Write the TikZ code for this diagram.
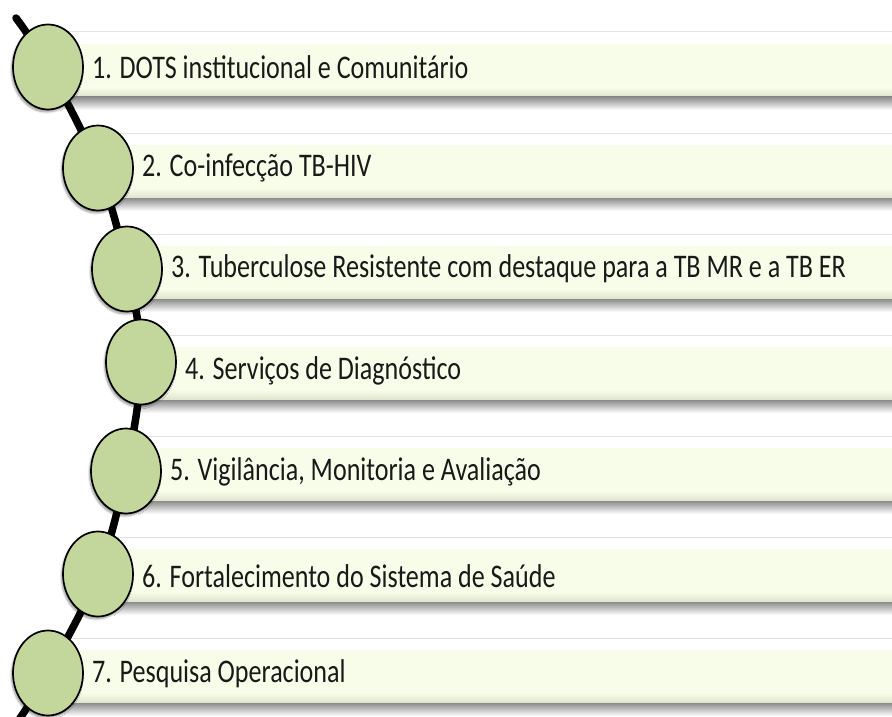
\documentclass[tikz,border=0pt]{standalone}
\usepackage{fontspec}
\setmainfont{Carlito}
\newfontfamily\itemfont[FakeStretch=0.79]{Carlito}
\usetikzlibrary{shapes.geometric,shadows.blur}
\definecolor{barfill}{HTML}{F8FDE9}
\definecolor{barbot}{HTML}{DDE2CC}
\definecolor{dotfill}{HTML}{C3D69B}
\tikzset{
  dotnode/.style={ellipse, draw=black, line width=1.7pt, fill=dotfill,
    minimum width=70pt, minimum height=85pt, inner sep=0pt,
    blur shadow={shadow xshift=-1.5pt, shadow yshift=-2.5pt, shadow blur steps=6, shadow opacity=40}},
  itemtext/.style={anchor=west, inner sep=0pt, text=black!90,
    font=\itemfont\fontsize{33}{38}\selectfont},
  spine/.style={line width=7.5pt, black, line cap=round}
}
\begin{document}
\begin{tikzpicture}[x=1pt,y=-1pt]
\useasboundingbox (0,0) rectangle (892,717);
\clip (0,0) rectangle (892,717);
% centres of the circles
\coordinate (s0) at (16,18);
\coordinate (p1) at (48,67);
\coordinate (p2) at (98,168);
\coordinate (p3) at (127,269);
\coordinate (p4) at (141,362);
\coordinate (p5) at (126,471);
\coordinate (p6) at (98,574);
\coordinate (p7) at (48,673);
\coordinate (s1) at (12,730);
% bars
\foreach \i/\cx in {1/48,2/98,3/127,4/141,5/126,6/98,7/48}{
  \pgfmathsetmacro{\T}{32+101*(\i-1)}
  \fill[white] (\cx,\T) rectangle (892,\T+65);
  \draw[gray!22, line width=1pt] (\cx,\T) -- (892,\T);
  \fill[barfill] (\cx,\T+12) rectangle (892,\T+55);
  \shade[top color=barfill, bottom color=barbot] (\cx,\T+55) rectangle (892,\T+65.5);
  \shade[top color=black!45, bottom color=white] (\cx,\T+65) rectangle (892,\T+78);
}
% spine
\draw[spine] plot[smooth, tension=0.6] coordinates {(s0) (p1) (p2) (p3) (p4) (p5) (p6) (p7) (s1)};
% circles
\foreach \i in {1,...,7}{
  \node[dotnode] (c\i) at (p\i) {};
}
% labels
\node[itemtext] (t1) at ([xshift=8pt,yshift=0pt]c1.east) {1. DOTS institucional e Comunitário};
\node[itemtext] (t2) at ([xshift=8pt,yshift=0pt]c2.east) {2. Co-infecção TB-HIV};
\node[itemtext] (t3) at ([xshift=8pt,yshift=0pt]c3.east) {3. Tuberculose Resistente com destaque para a TB MR e a TB ER};
\node[itemtext] (t4) at ([xshift=8pt,yshift=-9pt]c4.east) {4. Serviços de Diagnóstico};
\node[itemtext] (t5) at ([xshift=8pt,yshift=-1pt]c5.east) {5. Vigilância, Monitoria e Avaliação};
\node[itemtext] (t6) at ([xshift=8pt,yshift=-2pt]c6.east) {6. Fortalecimento do Sistema de Saúde};
\node[itemtext] (t7) at ([xshift=8pt,yshift=-1pt]c7.east) {7. Pesquisa Operacional};
\end{tikzpicture}
\end{document}
